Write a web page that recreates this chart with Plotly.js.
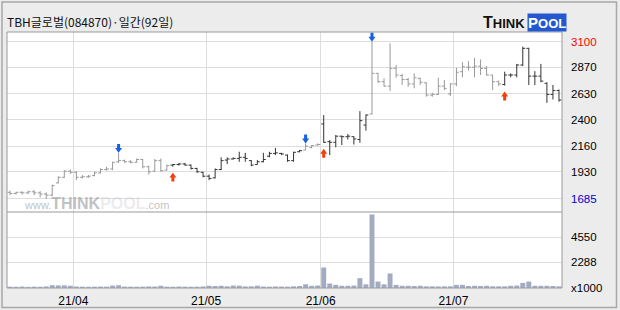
<!DOCTYPE html>
<html><head><meta charset="utf-8">
<script src="https://cdn.plot.ly/plotly-3.0.1.min.js"></script>
<style>html,body{margin:0;padding:0;background:#ececec;overflow:hidden}#chart{width:620px;height:310px}</style>
</head><body><div id="chart"></div>
<script>
// ---------- data ----------
const dates = [
 '2021-03-17','2021-03-18','2021-03-19','2021-03-22','2021-03-23','2021-03-24','2021-03-25','2021-03-26','2021-03-29','2021-03-30','2021-03-31',
 '2021-04-01','2021-04-02','2021-04-05','2021-04-06','2021-04-07','2021-04-08','2021-04-09','2021-04-12','2021-04-13','2021-04-14','2021-04-15','2021-04-16','2021-04-19','2021-04-20','2021-04-21','2021-04-22','2021-04-23','2021-04-26','2021-04-27','2021-04-28','2021-04-29','2021-04-30',
 '2021-05-03','2021-05-04','2021-05-06','2021-05-07','2021-05-10','2021-05-11','2021-05-12','2021-05-13','2021-05-14','2021-05-17','2021-05-18','2021-05-20','2021-05-21','2021-05-24','2021-05-25','2021-05-26','2021-05-27','2021-05-28','2021-05-31',
 '2021-06-01','2021-06-02','2021-06-03','2021-06-04','2021-06-07','2021-06-08','2021-06-09','2021-06-10','2021-06-11','2021-06-14','2021-06-15','2021-06-16','2021-06-17','2021-06-18','2021-06-21','2021-06-22','2021-06-23','2021-06-24','2021-06-25','2021-06-28','2021-06-29','2021-06-30',
 '2021-07-01','2021-07-02','2021-07-05','2021-07-06','2021-07-07','2021-07-08','2021-07-09','2021-07-12','2021-07-13','2021-07-14','2021-07-15','2021-07-16','2021-07-19','2021-07-20','2021-07-21','2021-07-22','2021-07-23','2021-07-26'
];
const openP = [1745,1735,1745,1740,1750,1740,1730,1720,1830,1880,1935,1925,1880,1885,1895,1920,1950,1955,2020,2030,2020,2015,2040,1975,1935,2030,1945,1990,1995,2000,1990,1960,1925,1890,1875,1950,2035,2045,2050,2060,2030,1995,2020,2070,2095,2095,2080,2030,2110,2125,2150,2170,2360,2200,2195,2250,2245,2245,2220,2350,2450,2815,2740,2700,2860,2795,2760,2720,2770,2730,2620,2625,2700,2630,2720,2830,2870,2870,2880,2860,2800,2740,2715,2800,2800,2890,3040,2790,2790,2725,2625,2660];
const highP = [1760,1750,1755,1760,1765,1755,1745,1815,1890,1945,1950,1935,1900,1900,1930,1960,1975,2020,2100,2040,2035,2050,2045,1985,2045,2050,1995,2000,2010,2010,1995,1965,1930,1905,1960,2060,2060,2060,2110,2100,2035,2035,2100,2110,2145,2100,2085,2110,2125,2185,2170,2185,2440,2215,2260,2255,2270,2250,2475,2445,3100,2820,2770,3085,2890,2810,2775,2815,2775,2735,2640,2775,2755,2725,2865,2915,2925,2955,2940,2880,2800,2750,2830,2815,2900,3055,3045,2835,2900,2735,2710,2670];
const lowP = [1720,1725,1725,1730,1720,1700,1685,1710,1825,1875,1910,1855,1870,1875,1890,1915,1940,1945,2010,2010,2005,2010,1960,1905,1930,1930,1940,1975,1985,1985,1950,1920,1880,1855,1870,1945,2000,2040,2020,2020,1980,1995,2015,2060,2080,2080,2020,2020,2105,2125,2140,2165,2190,2080,2150,2170,2220,2175,2190,2300,2445,2730,2695,2655,2775,2710,2695,2680,2710,2605,2605,2620,2665,2610,2700,2780,2840,2780,2800,2795,2665,2700,2705,2780,2780,2880,2710,2710,2735,2550,2580,2560];
const closeP = [1735,1745,1740,1750,1740,1730,1720,1805,1880,1935,1925,1880,1885,1890,1920,1950,1955,2015,2030,2020,2015,2040,1975,1930,2030,1940,1985,1995,2000,1990,1960,1930,1890,1870,1950,2030,2045,2050,2060,2050,1990,2020,2040,2095,2100,2090,2030,2105,2120,2160,2165,2175,2195,2195,2250,2245,2250,2225,2390,2440,2815,2740,2700,2860,2800,2760,2720,2775,2735,2620,2625,2700,2680,2720,2825,2875,2870,2880,2860,2800,2740,2720,2800,2800,2890,3040,2790,2790,2745,2625,2660,2575];
// volume in thousands of shares
const volume = [120,110,130,100,120,110,140,250,230,240,200,130,120,110,120,130,120,220,250,130,120,110,120,140,130,200,120,110,130,120,110,120,140,200,180,200,150,220,210,140,150,210,130,120,140,130,120,150,180,330,200,220,1835,400,280,200,200,220,880,330,6580,580,330,1300,280,200,200,180,200,150,150,140,150,150,280,280,180,200,180,200,150,150,150,200,220,460,580,200,200,200,180,150];
const buySignals = [27, 52, 82];
const sellSignals = [18, 49, 60];
const priceTicks = [1685, 1930, 2160, 2400, 2630, 2870, 3100];
const volumeTicks = [0, 2288, 4550];
const volumeTickText = ['x1000', '2288', '4550'];
const titleText = 'TBH글로벌(084870)·일간(92일)';

// ---------- styling / geometry ----------
const W = 620, H = 310;
const PL = 7, PR = 562, PT = 32, PB = 288, DIV = 212;
const px = x => (x - PL) / (PR - PL);
const py = y => (PB - y) / (PB - PT);
const DARK = '#333333', GRAY = '#999999';
const GRID = '#dddddd', FRAME = '#9a9a9a';

const idx = dates.map((d, i) => i);

// trend state from signals
const state = [];
let s = 'gray';
idx.forEach(i => {
  if (sellSignals.includes(i)) s = 'gray';
  if (buySignals.includes(i)) s = 'dark';
  state.push(s);
});
function ohlcTrace(kind, color) {
  const sel = idx.filter(i => state[i] === kind);
  return {
    type: 'ohlc', xaxis: 'x', yaxis: 'y',
    x: sel, open: sel.map(i => openP[i]), high: sel.map(i => highP[i]),
    low: sel.map(i => lowP[i]), close: sel.map(i => closeP[i]),
    increasing: {line: {color: color, width: 1}},
    decreasing: {line: {color: color, width: 1}},
    tickwidth: 0.4, hoverinfo: 'skip', showlegend: false
  };
}

const volTrace = {
  type: 'bar', x: idx, y: volume, xaxis: 'x', yaxis: 'y2',
  marker: {color: '#a3abc3', line: {width: 0}}, width: 0.82,
  hoverinfo: 'skip', showlegend: false
};

// month ticks
const monthTicks = [], monthText = [];
idx.forEach(i => {
  if (i > 0 && dates[i].slice(5, 7) !== dates[i - 1].slice(5, 7)) {
    monthTicks.push(i - 0.5);
    monthText.push(dates[i].slice(2, 4) + '/' + dates[i].slice(5, 7));
  }
});

const maxHigh = Math.max(...highP), minLow = Math.min(...lowP);
const priceTickText = priceTicks.map(v => {
  if (v === maxHigh) return '<span style="color:#ff0000">' + v + '</span>';
  if (v === minLow) return '<span style="color:#0000cc">' + v + '</span>';
  return String(v);
});

// signal arrows: pixel-sized paths anchored on the bar's high / low
const DOWN_ARROW = 'M0,0 L-3.5,4.8 L-1.5,4.8 L-1.5,8.8 L1.5,8.8 L1.5,4.8 L3.5,4.8 Z';
const UP_ARROW = 'M0,-6 L-3.5,-10.8 L-1.5,-10.8 L-1.5,-14.8 L1.5,-14.8 L1.5,-10.8 L3.5,-10.8 Z';
const arrowShapes = [];
sellSignals.forEach(i => arrowShapes.push({
  type: 'path', xref: 'x', yref: 'y', xsizemode: 'pixel', ysizemode: 'pixel',
  xanchor: i, yanchor: highP[i], path: DOWN_ARROW,
  fillcolor: '#1760e4', line: {width: 0}, layer: 'above'
}));
buySignals.forEach(i => arrowShapes.push({
  type: 'path', xref: 'x', yref: 'y', xsizemode: 'pixel', ysizemode: 'pixel',
  xanchor: i, yanchor: lowP[i], path: UP_ARROW,
  fillcolor: '#f0400c', line: {width: 0}, layer: 'above'
}));

const annotations = [];
// logo
annotations.push({
  xref: 'paper', yref: 'paper', x: px(527), y: py(22.5), xanchor: 'right', yanchor: 'middle',
  text: '<b><span style="font-size:16px">T</span>HINK</b>', showarrow: false,
  font: {family: 'Liberation Sans', size: 13, color: '#111111'}
});
annotations.push({
  xref: 'paper', yref: 'paper', x: px(527), y: py(22.5), xanchor: 'left', yanchor: 'middle',
  text: '<b><span style="font-size:15px">P</span>OOL</b>', showarrow: false,
  bgcolor: '#2458d0', borderpad: 0,
  font: {family: 'Liberation Sans', size: 13, color: '#ffffff'}
});
// watermark
annotations.push({
  xref: 'paper', yref: 'paper', x: px(22), y: py(203), xanchor: 'left', yanchor: 'middle',
  text: '<span style="font-size:11px">www.</span><b>THINK</b><b style="color:rgba(190,190,190,0.55)">POOL</b><span style="font-size:11px">.com</span>',
  showarrow: false,
  font: {family: 'Liberation Sans', size: 16, color: 'rgba(140,140,140,0.55)'}
});

const shapes = [
  {type: 'rect', xref: 'paper', yref: 'paper', x0: px(2), x1: px(616.5), y0: py(307.5), y1: py(2),
   line: {color: '#a8a8a8', width: 1.5}, layer: 'below'},
  {type: 'rect', xref: 'paper', yref: 'paper', x0: 0, x1: 1, y0: 0, y1: 1,
   line: {color: FRAME, width: 1}},
  {type: 'line', xref: 'paper', yref: 'paper', x0: 0, x1: 1, y0: py(DIV), y1: py(DIV),
   line: {color: FRAME, width: 1}}
].concat(arrowShapes);

const tickFont = {family: 'Liberation Sans', size: 11.5, color: '#000000'};

const layout = {
  width: W, height: H,
  margin: {l: PL, r: W - PR, t: PT, b: H - PB, pad: 0},
  paper_bgcolor: '#ececec', plot_bgcolor: '#ffffff',
  showlegend: false,
  title: {text: titleText, x: PL / W, xanchor: 'left', y: 1 - 22.5 / H, yanchor: 'middle',
          font: {family: 'Noto Sans CJK KR', size: 12, color: '#111111'}},
  xaxis: {
    range: [-0.5, idx.length - 0.5], anchor: 'y2',
    tickmode: 'array', tickvals: monthTicks, ticktext: monthText,
    showgrid: true, gridcolor: GRID, gridwidth: 1, zeroline: false, showline: false,
    ticks: '', ticklabelstandoff: 4, tickfont: {family: 'Liberation Sans', size: 12, color: '#000'},
    rangeslider: {visible: false}, fixedrange: true
  },
  yaxis: {
    domain: [py(DIV), 1], anchor: 'x', side: 'right',
    range: [1568, 3187], tickmode: 'array', tickvals: priceTicks, ticktext: priceTickText,
    showgrid: true, gridcolor: GRID, zeroline: false, showline: false,
    ticks: '', ticklabelstandoff: 8, tickfont: tickFont, fixedrange: true
  },
  yaxis2: {
    domain: [0, py(DIV)], anchor: 'x', side: 'right',
    range: [0, 6800], tickmode: 'array', tickvals: volumeTicks, ticktext: volumeTickText,
    showgrid: true, gridcolor: GRID, zeroline: false, showline: false,
    ticks: '', ticklabelstandoff: 8, tickfont: tickFont, fixedrange: true
  },
  annotations: annotations, shapes: shapes
};

Plotly.newPlot('chart', [volTrace, ohlcTrace('gray', GRAY), ohlcTrace('dark', DARK)], layout,
  {staticPlot: true, displayModeBar: false});
</script>
</body></html>
